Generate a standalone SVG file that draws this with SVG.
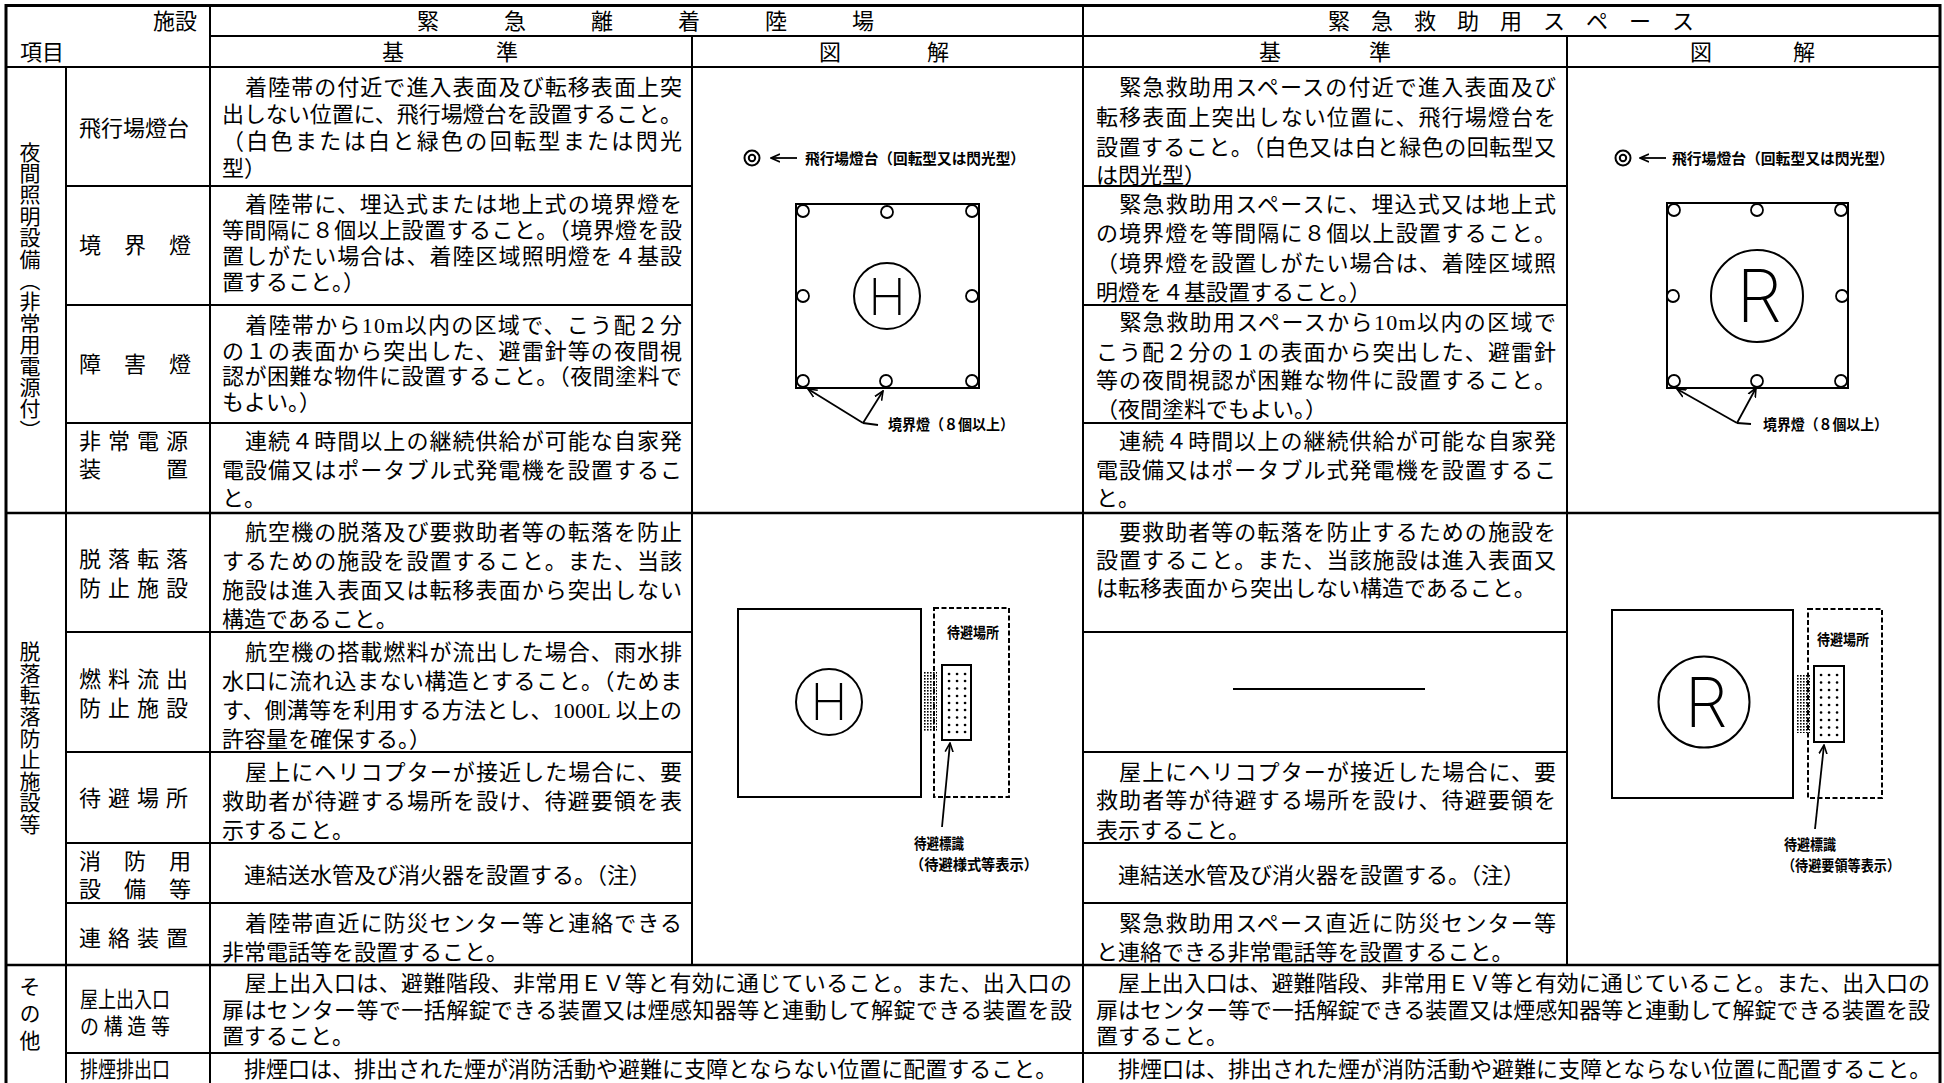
<svg xmlns="http://www.w3.org/2000/svg" width="1944" height="1083" viewBox="0 0 1944 1083">
<defs>
<style>
.t{font-family:"Liberation Serif","Noto Sans CJK JP",serif;font-size:22px;fill:#000}
.c{text-anchor:middle}
.v{font-family:"Noto Sans CJK JP",sans-serif;font-size:21px;writing-mode:vertical-rl;text-anchor:middle;fill:#000}
.f{font-family:"Noto Sans CJK JP",sans-serif;font-weight:700;font-size:15px;fill:#000}
.g{stroke:#000;stroke-width:2;fill:none}
.s{stroke:#000;stroke-width:2.5;fill:none}
.o{stroke:#000;stroke-width:3;fill:none}
.lt{stroke:#000;stroke-width:1.8;fill:#fff}
.ar{stroke:#000;stroke-width:1.8;fill:none;marker-end:url(#ah)}
.dash{stroke:#000;stroke-width:2;fill:none;stroke-dasharray:5 2.5}
.dots{stroke:#000;stroke-width:2.6;stroke-linecap:round;fill:none}
.big{font-family:Inter,"Liberation Sans",sans-serif;font-weight:200;fill:#000;text-anchor:middle}
</style>
<marker id="ah" viewBox="0 0 10 10" refX="9" refY="5" markerWidth="10" markerHeight="10" markerUnits="userSpaceOnUse" orient="auto"><path d="M0,1 L9,5 L0,9" fill="none" stroke="#000" stroke-width="1.6"/></marker>
<pattern id="hp" width="3" height="3" patternUnits="userSpaceOnUse"><rect width="1.6" height="1.6" fill="#000"/></pattern>
</defs>
<rect width="1944" height="1083" fill="#fff"/>

<g id="grid">
<path class="o" d="M4.5,5.5 H1941.5 M6,4 V1083 M1940,4 V1083"/>
<path class="g" d="M210,36 H1940 M6,67 H1940 M210,5 V1083 M1083,5 V1083 M692,36 V965 M1567,36 V965 M66,67 V1083 M66,186 H692 M1083,186 H1567 M66,305 H692 M1083,305 H1567 M66,423 H692 M1083,423 H1567 M66,632 H692 M1083,632 H1567 M66,752 H692 M1083,752 H1567 M66,843 H692 M1083,843 H1567 M66,903 H692 M1083,903 H1567 M66,1053 H1940"/>
<path class="s" d="M6,513 H1940 M6,965 H1940"/>
</g>

<g id="header">
<text class="t" x="197" y="29" text-anchor="end">施設</text>
<text class="t" x="20" y="60">項目</text>
<text class="t c" x="428 515 602 689 776 863" y="29">緊急離着陸場</text>
<text class="t c" x="1339 1382 1425 1468 1511 1554 1597 1640 1683" y="29">緊急救助用スペース</text>
<text class="t c" x="393 507" y="60">基準</text>
<text class="t c" x="830 938" y="60">図解</text>
<text class="t c" x="1270 1380" y="60">基準</text>
<text class="t c" x="1701 1804" y="60">図解</text>
</g>

<g id="group-night"><text class="v" x="30" y="291" style="letter-spacing:0.4px">夜間照明設備（非常用電源付）</text></g>
<g id="group-fall"><text class="v" x="30" y="738" style="letter-spacing:0.6px">脱落転落防止施設等</text></g>
<g id="group-other"><text class="v" x="30" y="1016" style="letter-spacing:6px">その他</text></g>

<g id="row-beacon">
<text class="t c" x="134" y="136">飛行場燈台</text>
<text class="t" x="222" y="95" textLength="460" lengthAdjust="spacing">　着陸帯の付近で進入表面及び転移表面上突</text>
<text class="t" x="222" y="122" textLength="460" lengthAdjust="spacing">出しない位置に、飛行場燈台を設置すること。</text>
<text class="t" x="222" y="149" textLength="460" lengthAdjust="spacing">（白色または白と緑色の回転型または閃光</text>
<text class="t" x="222" y="176">型）</text>
<text class="t" x="1096" y="95" textLength="460" lengthAdjust="spacing">　緊急救助用スペースの付近で進入表面及び</text>
<text class="t" x="1096" y="125" textLength="460" lengthAdjust="spacing">転移表面上突出しない位置に、飛行場燈台を</text>
<text class="t" x="1096" y="155" textLength="460" lengthAdjust="spacing">設置すること。（白色又は白と緑色の回転型又</text>
<text class="t" x="1096" y="183">は閃光型）</text>
</g>

<g id="row-boundary">
<text class="t c" x="90 135 180" y="253">境界燈</text>
<text class="t" x="222" y="212" textLength="460" lengthAdjust="spacing">　着陸帯に、埋込式または地上式の境界燈を</text>
<text class="t" x="222" y="238" textLength="460" lengthAdjust="spacing">等間隔に８個以上設置すること。（境界燈を設</text>
<text class="t" x="222" y="264" textLength="460" lengthAdjust="spacing">置しがたい場合は、着陸区域照明燈を４基設</text>
<text class="t" x="222" y="290">置すること。）</text>
<text class="t" x="1096" y="212" textLength="460" lengthAdjust="spacing">　緊急救助用スペースに、埋込式又は地上式</text>
<text class="t" x="1096" y="241" textLength="460" lengthAdjust="spacing">の境界燈を等間隔に８個以上設置すること。</text>
<text class="t" x="1096" y="271" textLength="460" lengthAdjust="spacing">（境界燈を設置しがたい場合は、着陸区域照</text>
<text class="t" x="1096" y="300">明燈を４基設置すること。）</text>
</g>

<g id="row-obstacle">
<text class="t c" x="90 135 180" y="372">障害燈</text>
<text class="t" x="222" y="333" textLength="460" lengthAdjust="spacing">　着陸帯から10m以内の区域で、こう配２分</text>
<text class="t" x="222" y="358.5" textLength="460" lengthAdjust="spacing">の１の表面から突出した、避雷針等の夜間視</text>
<text class="t" x="222" y="384" textLength="460" lengthAdjust="spacing">認が困難な物件に設置すること。（夜間塗料で</text>
<text class="t" x="222" y="409.5">もよい。）</text>
<text class="t" x="1096" y="330" textLength="460" lengthAdjust="spacing">　緊急救助用スペースから10m以内の区域で</text>
<text class="t" x="1096" y="360" textLength="460" lengthAdjust="spacing">こう配２分の１の表面から突出した、避雷針</text>
<text class="t" x="1096" y="388" textLength="460" lengthAdjust="spacing">等の夜間視認が困難な物件に設置すること。</text>
<text class="t" x="1096" y="417">（夜間塗料でもよい。）</text>
</g>

<g id="row-power">
<text class="t c" x="90 119 148 177" y="449">非常電源</text>
<text class="t c" x="90 177" y="477">装置</text>
<text class="t" x="222" y="449" textLength="460" lengthAdjust="spacing">　連続４時間以上の継続供給が可能な自家発</text>
<text class="t" x="222" y="477.5" textLength="460" lengthAdjust="spacing">電設備又はポータブル式発電機を設置するこ</text>
<text class="t" x="222" y="506">と。</text>
<text class="t" x="1096" y="449" textLength="460" lengthAdjust="spacing">　連続４時間以上の継続供給が可能な自家発</text>
<text class="t" x="1096" y="478" textLength="460" lengthAdjust="spacing">電設備又はポータブル式発電機を設置するこ</text>
<text class="t" x="1096" y="506">と。</text>
</g>

<g id="row-fallprev">
<text class="t c" x="90 119 148 177" y="567">脱落転落</text>
<text class="t c" x="90 119 148 177" y="596">防止施設</text>
<text class="t" x="222" y="540" textLength="460" lengthAdjust="spacing">　航空機の脱落及び要救助者等の転落を防止</text>
<text class="t" x="222" y="569" textLength="460" lengthAdjust="spacing">するための施設を設置すること。また、当該</text>
<text class="t" x="222" y="598" textLength="460" lengthAdjust="spacing">施設は進入表面又は転移表面から突出しない</text>
<text class="t" x="222" y="627">構造であること。</text>
<text class="t" x="1096" y="540" textLength="460" lengthAdjust="spacing">　要救助者等の転落を防止するための施設を</text>
<text class="t" x="1096" y="568" textLength="460" lengthAdjust="spacing">設置すること。また、当該施設は進入表面又</text>
<text class="t" x="1096" y="596">は転移表面から突出しない構造であること。</text>
</g>

<g id="row-fuel">
<text class="t c" x="90 119 148 177" y="687">燃料流出</text>
<text class="t c" x="90 119 148 177" y="716">防止施設</text>
<text class="t" x="222" y="660" textLength="460" lengthAdjust="spacing">　航空機の搭載燃料が流出した場合、雨水排</text>
<text class="t" x="222" y="689" textLength="460" lengthAdjust="spacing">水口に流れ込まない構造とすること。（ためま</text>
<text class="t" x="222" y="718" textLength="460" lengthAdjust="spacing">す、側溝等を利用する方法とし、1000L 以上の</text>
<text class="t" x="222" y="747">許容量を確保する。）</text>
<path class="g" d="M1233,689 H1425" stroke-width="1.5"/>
</g>

<g id="row-waiting">
<text class="t c" x="90 119 148 177" y="806">待避場所</text>
<text class="t" x="222" y="780" textLength="460" lengthAdjust="spacing">　屋上にヘリコプターが接近した場合に、要</text>
<text class="t" x="222" y="809" textLength="460" lengthAdjust="spacing">救助者が待避する場所を設け、待避要領を表</text>
<text class="t" x="222" y="838">示すること。</text>
<text class="t" x="1096" y="780" textLength="460" lengthAdjust="spacing">　屋上にヘリコプターが接近した場合に、要</text>
<text class="t" x="1096" y="808" textLength="460" lengthAdjust="spacing">救助者等が待避する場所を設け、待避要領を</text>
<text class="t" x="1096" y="838">表示すること。</text>
</g>

<g id="row-fire">
<text class="t c" x="90 135 180" y="869">消防用</text>
<text class="t c" x="90 135 180" y="897">設備等</text>
<text class="t" x="222" y="883">　連結送水管及び消火器を設置する。（注）</text>
<text class="t" x="1096" y="883">　連結送水管及び消火器を設置する。（注）</text>
</g>

<g id="row-contact">
<text class="t c" x="90 119 148 177" y="946">連絡装置</text>
<text class="t" x="222" y="931" textLength="460" lengthAdjust="spacing">　着陸帯直近に防災センター等と連絡できる</text>
<text class="t" x="222" y="960">非常電話等を設置すること。</text>
<text class="t" x="1096" y="931" textLength="460" lengthAdjust="spacing">　緊急救助用スペース直近に防災センター等</text>
<text class="t" x="1096" y="960">と連絡できる非常電話等を設置すること。</text>
</g>

<g id="row-exit">
<text class="t" x="80" y="1007" textLength="90" lengthAdjust="spacingAndGlyphs">屋上出入口</text>
<text class="t" x="80" y="1034" textLength="90" lengthAdjust="spacingAndGlyphs">の 構 造 等</text>
<text class="t" x="222" y="991" textLength="850" lengthAdjust="spacing">　屋上出入口は、避難階段、非常用ＥＶ等と有効に通じていること。また、出入口の</text>
<text class="t" x="222" y="1018" textLength="850" lengthAdjust="spacing">扉はセンター等で一括解錠できる装置又は煙感知器等と連動して解錠できる装置を設</text>
<text class="t" x="222" y="1044">置すること。</text>
<text class="t" x="1096" y="991" textLength="834" lengthAdjust="spacing">　屋上出入口は、避難階段、非常用ＥＶ等と有効に通じていること。また、出入口の</text>
<text class="t" x="1096" y="1018" textLength="834" lengthAdjust="spacing">扉はセンター等で一括解錠できる装置又は煙感知器等と連動して解錠できる装置を設</text>
<text class="t" x="1096" y="1044">置すること。</text>
</g>

<g id="row-smoke">
<text class="t" x="80" y="1077" textLength="90" lengthAdjust="spacingAndGlyphs">排煙排出口</text>
<text class="t" x="222" y="1077">　排煙口は、排出された煙が消防活動や避難に支障とならない位置に配置すること。</text>
<text class="t" x="1096" y="1077">　排煙口は、排出された煙が消防活動や避難に支障とならない位置に配置すること。</text>
</g>

<g id="fig-heliport-night">
<circle cx="752" cy="158" r="7.5" class="g"/><circle cx="752" cy="158" r="3.2" class="g" stroke-width="1.8"/>
<text class="f" x="805" y="163.5" textLength="220" lengthAdjust="spacingAndGlyphs">飛行場燈台（回転型又は閃光型）</text>
<rect x="796" y="204" width="183" height="184" class="g"/>
<circle class="lt" cx="803" cy="211" r="6"/><circle class="lt" cx="887" cy="212" r="6"/><circle class="lt" cx="972" cy="211" r="6"/>
<circle class="lt" cx="803" cy="296" r="6"/><circle class="lt" cx="972" cy="296" r="6"/>
<circle class="lt" cx="803" cy="381" r="6"/><circle class="lt" cx="886" cy="381" r="6"/><circle class="lt" cx="972" cy="381" r="6"/>
<circle cx="887" cy="296" r="33" class="g" stroke-width="1.8"/>
<text class="big" x="887" y="314.5" font-size="51">H</text>
<text class="f" x="888" y="430" textLength="126" lengthAdjust="spacingAndGlyphs">境界燈（８個以上）</text>
</g>

<g id="fig-rescue-night">
<circle cx="1623" cy="158" r="7.5" class="g"/><circle cx="1623" cy="158" r="3.2" class="g" stroke-width="1.8"/>
<text class="f" x="1672" y="163.5" textLength="222" lengthAdjust="spacingAndGlyphs">飛行場燈台（回転型又は閃光型）</text>
<rect x="1667" y="203" width="181" height="185" class="g"/>
<circle class="lt" cx="1674" cy="210" r="6"/><circle class="lt" cx="1757" cy="210" r="6"/><circle class="lt" cx="1841" cy="210" r="6"/>
<circle class="lt" cx="1673" cy="296" r="6"/><circle class="lt" cx="1842" cy="296" r="6"/>
<circle class="lt" cx="1674" cy="381" r="6"/><circle class="lt" cx="1757" cy="381" r="6"/><circle class="lt" cx="1841" cy="381" r="6"/>
<circle cx="1757" cy="296" r="46" class="g" stroke-width="1.8"/>
<text class="big" x="1759" y="322" font-size="73">R</text>
<text class="f" x="1763" y="430" textLength="125" lengthAdjust="spacingAndGlyphs">境界燈（８個以上）</text>
</g>

<g id="fig-heliport-fall">
<rect x="738" y="609" width="183" height="188" class="g"/>
<circle cx="829" cy="702" r="33" class="g" stroke-width="1.8"/>
<text class="big" x="829" y="720" font-size="50">H</text>
<rect x="924" y="672" width="13" height="60" fill="url(#hp)"/>
<rect x="934" y="608" width="75" height="189" class="dash"/>
<text class="f" x="947" y="638" font-size="13.5" textLength="52" lengthAdjust="spacingAndGlyphs">待避場所</text>
<rect x="942" y="665" width="29" height="75" class="g" fill="#fff"/>
<path class="dots" d="M949,674h.1M957,674h.1M965,674h.1M949,681h.1M957,681h.1M965,681h.1M949,688.5h.1M957,688.5h.1M965,688.5h.1M949,696h.1M957,696h.1M965,696h.1M949,703h.1M957,703h.1M965,703h.1M949,710h.1M957,710h.1M965,710h.1M949,717.5h.1M957,717.5h.1M965,717.5h.1M949,725h.1M957,725h.1M965,725h.1M949,732h.1M957,732h.1M965,732h.1"/>
<text class="f" x="914" y="849" font-size="14" textLength="50" lengthAdjust="spacingAndGlyphs">待避標識</text>
<text class="f" x="910" y="870" font-size="14" textLength="128" lengthAdjust="spacingAndGlyphs">（待避様式等表示）</text>
</g>

<g id="fig-rescue-fall">
<rect x="1612" y="610" width="181" height="188" class="g"/>
<circle cx="1704" cy="702" r="45.5" class="g" stroke-width="1.8"/>
<text class="big" x="1706" y="727" font-size="69">R</text>
<rect x="1796" y="675" width="14" height="58" fill="url(#hp)"/>
<rect x="1808" y="609" width="74" height="189" class="dash"/>
<text class="f" x="1817" y="645" font-size="13.5" textLength="52" lengthAdjust="spacingAndGlyphs">待避場所</text>
<rect x="1814" y="666" width="30" height="76" class="g" fill="#fff"/>
<path class="dots" d="M1821,675h.1M1829,675h.1M1837,675h.1M1821,682.5h.1M1829,682.5h.1M1837,682.5h.1M1821,690h.1M1829,690h.1M1837,690h.1M1821,697.5h.1M1829,697.5h.1M1837,697.5h.1M1821,705h.1M1829,705h.1M1837,705h.1M1821,712.5h.1M1829,712.5h.1M1837,712.5h.1M1821,720h.1M1829,720h.1M1837,720h.1M1821,727.5h.1M1829,727.5h.1M1837,727.5h.1M1821,735h.1M1829,735h.1M1837,735h.1"/>
<text class="f" x="1784" y="850" font-size="14" textLength="52" lengthAdjust="spacingAndGlyphs">待避標識</text>
<text class="f" x="1782" y="871" font-size="14" textLength="118" lengthAdjust="spacingAndGlyphs">（待避要領等表示）</text>
</g>

<g id="connectors">
<path class="ar" d="M797,158 H771"/>
<path class="g" stroke-width="1.8" d="M863,423 L878,425"/>
<path class="ar" d="M863,423 L808,389"/>
<path class="ar" d="M863,423 L883,391"/>
<path class="ar" d="M1666,158 H1640"/>
<path class="g" stroke-width="1.8" d="M1737,423 L1751,424"/>
<path class="ar" d="M1737,423 L1677,389"/>
<path class="ar" d="M1737,423 L1756,388"/>
<path class="ar" d="M942,827 L950,743"/>
<path class="ar" d="M1815,829 L1824,745"/>
</g>
</svg>
